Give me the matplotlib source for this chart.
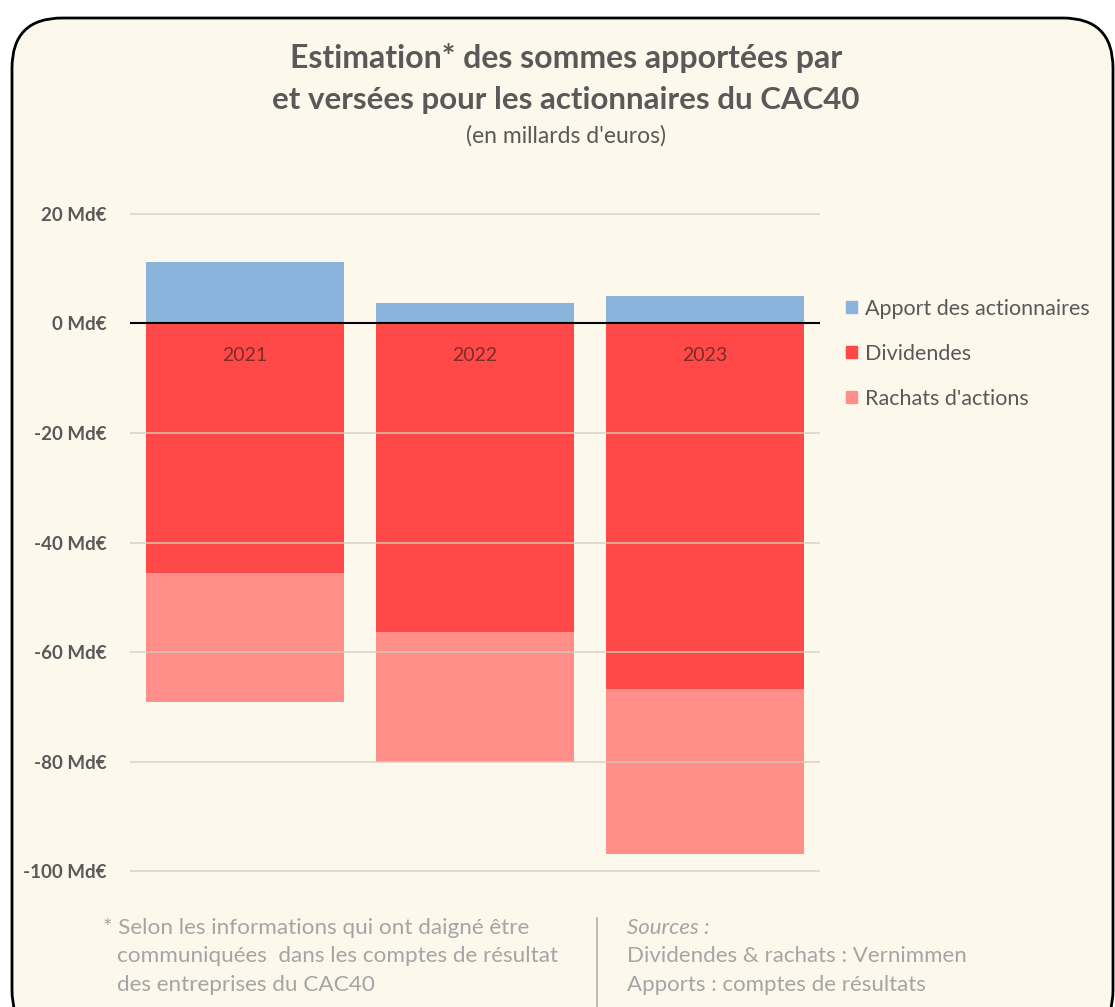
import matplotlib.pyplot as plt
from matplotlib.patches import FancyBboxPatch, Patch

years = ['2021', '2022', '2023']
apports = [11.2, 3.8, 4.9]
dividendes = [-45.5, -56.3, -66.8]
rachats = [-23.7, -23.8, -30.1]
yticks = [20, 0, -20, -40, -60, -80, -100]
ytick_labels = ['20 Md€', '0 Md€', '-20 Md€', '-40 Md€', '-60 Md€', '-80 Md€', '-100 Md€']

bg = '#fdf8ec'
c_blue = '#8ab4dc'
c_red = '#ff4848'
c_pink = '#ff8f88'
gray = '#595959'

plt.rcParams['font.family'] = ['Lato', 'DejaVu Sans']

W, H = 1115, 1007
fig = plt.figure(figsize=(W / 100, H / 100), dpi=100)
fig.patch.set_facecolor('white')

# cadre arrondi (derrière les axes)
box = FancyBboxPatch((12 / W, 1 - 1040 / H), (1113 - 12) / W, (1040 - 18) / H,
                     boxstyle='round,pad=0,rounding_size=0.045',
                     transform=fig.transFigure, facecolor=bg, edgecolor='black',
                     linewidth=2, mutation_aspect=W / H, clip_on=False, zorder=-10)
fig.patches.append(box)

ax = fig.add_axes([130 / W, 1 - 874 / H, 690 / W, (874 - 211) / H])
ax.set_facecolor('none')

x = range(len(years))
w = 0.86
ax.bar(x, apports, width=w, color=c_blue, zorder=2)
ax.bar(x, dividendes, width=w, color=c_red, zorder=2)
ax.bar(x, rachats, width=w, bottom=dividendes, color=c_pink, zorder=2)

for i, yr in enumerate(years):
    ax.text(i, -5.8, yr, ha='center', va='center', fontsize=14, color='#7e2c28', zorder=4)

ax.set_xlim(-0.5, 2.5)
ax.set_ylim(-100.5, 20.5)
ax.set_yticks(yticks)
ax.set_yticklabels(ytick_labels, fontsize=13.5, fontweight='bold', color=gray)
ax.tick_params(axis='y', length=0, pad=17)
ax.set_xticks([])
for yv in yticks:
    if yv != 0:
        ax.axhline(yv, color='#d6cfbf', linewidth=1.4, alpha=0.7, zorder=3)
ax.axhline(0, color='black', linewidth=1.5, zorder=3)
for s in ax.spines.values():
    s.set_visible(False)

# titres
fig.text(566 / W, 1 - 58 / H, 'Estimation* des sommes apportées par', ha='center', va='center',
         fontsize=23, fontweight='bold', color=gray)
fig.text(566 / W, 1 - 100 / H, 'et versées pour les actionnaires du CAC40', ha='center', va='center',
         fontsize=22.5, fontweight='bold', color=gray)
fig.text(566 / W, 1 - 136 / H, "(en millards d'euros)", ha='center', va='center',
         fontsize=16.5, color=gray)

# légende
handles = [Patch(color=c_blue), Patch(color=c_red), Patch(color=c_pink)]
labels = ['Apport des actionnaires', 'Dividendes', "Rachats d'actions"]
fig.legend(handles, labels, loc='upper left', bbox_to_anchor=(846 / W, 1 - 299 / H),
           frameon=False, fontsize=15.5, handlelength=0.5, handleheight=0.5,
           handletextpad=0.4, labelspacing=1.15, labelcolor=gray,
           borderpad=0, borderaxespad=0)

# notes
foot = '#a5a5a5'
fig.text(103 / W, 1 - 928 / H, '* Selon les informations qui ont daigné être', fontsize=16.2,
         color=foot, va='center')
fig.text(117 / W, 1 - 956 / H, 'communiquées  dans les comptes de résultat', fontsize=16.2,
         color=foot, va='center')
fig.text(117 / W, 1 - 985 / H, 'des entreprises du CAC40', fontsize=16.2,
         color=foot, va='center')
fig.add_artist(plt.Line2D([597 / W, 597 / W], [0, 1 - 918 / H], transform=fig.transFigure,
                          color='#b0b0b0', linewidth=1.2))
fig.text(627 / W, 1 - 928 / H, 'Sources :', fontsize=16, color=foot, va='center', style='italic')
fig.text(627 / W, 1 - 956 / H, 'Dividendes & rachats : Vernimmen', fontsize=16,
         color=foot, va='center')
fig.text(627 / W, 1 - 985 / H, 'Apports : comptes de résultats', fontsize=16,
         color=foot, va='center')

fig.savefig('out.png', dpi=100, facecolor=fig.get_facecolor())
